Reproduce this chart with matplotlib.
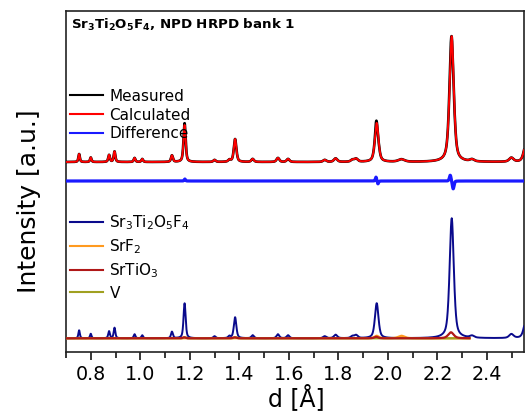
import numpy as np
import matplotlib
matplotlib.use("Agg")
import matplotlib.pyplot as plt

plt.rcParams['font.family'] = ['DejaVu Sans']
plt.rcParams['mathtext.default'] = 'regular'

# ---------------- data ----------------
x_min, x_max = 0.70, 2.55
phase_end = 2.33            # minor phase curves stop here

# main phase Sr3Ti2O5F4 : peak positions (d, Å), heights (a.u.), FWHM (Å)
main_pos = [0.753, 0.800, 0.874, 0.896, 0.977, 1.008, 1.128, 1.179, 1.300, 1.360,
            1.383, 1.454, 1.556, 1.597, 1.745, 1.789, 1.857, 1.872, 1.955, 2.258,
            2.340, 2.499, 2.558]
main_hts = [8, 4.5, 7, 10.5, 4, 3, 6.5, 35, 2, 2,
            21, 3, 4, 3, 2, 3.5, 2, 3, 35, 120,
            2, 4, 18]
main_fwhm = [0.007, 0.007, 0.008, 0.008, 0.008, 0.008, 0.009, 0.010, 0.011, 0.011,
             0.012, 0.012, 0.013, 0.013, 0.015, 0.016, 0.016, 0.016, 0.017, 0.020,
             0.020, 0.021, 0.021]

srf2_pos = [1.955, 2.055]
srf2_hts = [2.5, 2.5]
srf2_fwhm = [0.020, 0.030]

srtio3_pos = [1.177, 1.381, 1.953, 2.255]
srtio3_hts = [1.0, 1.0, 1.5, 6.0]
srtio3_fwhm = [0.012, 0.014, 0.018, 0.026]

v_pos = [1.180, 1.385]
v_hts = [1.0, 1.0]
v_fwhm = [0.012, 0.014]

# misfit features (measured - calculated)
res_pos = [1.180, 1.952, 1.960, 2.252, 2.264]
res_amp = [2.0, 4.0, -3.0, 6.0, -8.0]
res_fwhm = [0.006, 0.006, 0.006, 0.008, 0.008]

upper_base = 190.0
diff_base = 171.0
lower_base = 13.7

labels_top = ['Measured', 'Calculated', 'Difference']
labels_phase = [r'Sr$_3$Ti$_2$O$_5$F$_4$', r'SrF$_2$', r'SrTiO$_3$', 'V']
x_ticks = [0.8, 1.0, 1.2, 1.4, 1.6, 1.8, 2.0, 2.2, 2.4]

# ---------------- profile construction ----------------
d = np.linspace(x_min, x_max, 5000)

def profile(pos, hts, fwhm, xs, eta=0.55):
    out = np.zeros_like(xs)
    for p, h, w in zip(pos, hts, fwhm):
        g = np.exp(-4 * np.log(2) * ((xs - p) / w) ** 2)
        l = 1.0 / (1.0 + 4 * ((xs - p) / w) ** 2)
        out += h * (eta * l + (1 - eta) * g)
    return out

main = profile(main_pos, main_hts, main_fwhm, d)
srf2 = profile(srf2_pos, srf2_hts, srf2_fwhm, d)
srtio3 = profile(srtio3_pos, srtio3_hts, srtio3_fwhm, d)
vv = profile(v_pos, v_hts, v_fwhm, d)
resid = profile(res_pos, res_amp, res_fwhm, d, eta=0.3)

calc = upper_base + main + srf2 + srtio3 + vv
meas = calc + resid
diff = diff_base + (meas - calc)

mask = d <= phase_end

# ---------------- figure ----------------
fig = plt.figure(figsize=(5.29, 4.15), dpi=100)
ax = fig.add_axes([66 / 529, 1 - 352 / 415, (524 - 66) / 529, (352 - 11) / 415])

l_meas, = ax.plot(d, meas, color='black', lw=1.9, zorder=3)
l_calc, = ax.plot(d, calc, color='#ff0000', lw=1.4, zorder=4)
l_diff, = ax.plot(d, diff, color='#1a1aff', lw=2.3, zorder=3)

l_main, = ax.plot(d, lower_base + main, color='#0a0a8c', lw=1.4, zorder=3)
l_srf2, = ax.plot(d[mask], lower_base + srf2[mask], color='#ff9a1f', lw=1.6, zorder=4)
l_v, = ax.plot(d[mask], lower_base + vv[mask], color='#a0a020', lw=1.6, zorder=5)
l_sto, = ax.plot(d[mask], lower_base + srtio3[mask], color='#b01818', lw=1.6, zorder=6)

ax.set_xlim(x_min, x_max)
ax.set_ylim(0, 341)
ax.set_yticks([])
ax.set_xticks(x_ticks)
ax.set_xticklabels([f'{t:.1f}' for t in x_ticks])
ax.set_xticks(np.arange(0.7, 2.551, 0.1), minor=True)
ax.tick_params(axis='x', which='major', direction='out', length=6, width=1.1,
               labelsize=13.8, pad=3.5)
ax.tick_params(axis='x', which='minor', direction='out', length=4, width=1.1)
for s in ax.spines.values():
    s.set_linewidth(1.2)
    s.set_color('#222222')

ax.text(0.011, 0.982, r'$\mathbf{Sr_3Ti_2O_5F_4}$, NPD HRPD bank 1',
        transform=ax.transAxes, ha='left', va='top', fontsize=9.6,
        fontweight='bold')

leg1 = ax.legend([l_meas, l_calc, l_diff], labels_top, loc='upper left',
                 bbox_to_anchor=(0.008, 0.772), frameon=False, fontsize=11,
                 handlelength=2.15, handletextpad=0.45, labelspacing=0.25,
                 borderpad=0, borderaxespad=0)
for h in leg1.get_lines():
    h.set_linewidth(1.5)
ax.add_artist(leg1)
leg2 = ax.legend([l_main, l_srf2, l_sto, l_v], labels_phase, loc='upper left',
                 bbox_to_anchor=(0.008, 0.407), frameon=False, fontsize=11,
                 handlelength=2.15, handletextpad=0.45, labelspacing=0.36,
                 borderpad=0, borderaxespad=0)
for h in leg2.get_lines():
    h.set_linewidth(1.5)

fig.text(29 / 529, 1 - 201 / 415, 'Intensity [a.u.]', rotation=90,
         ha='center', va='center', fontsize=18)
fig.text(296 / 529, 1 - 398 / 415, 'd [Å]', ha='center', va='center',
         fontsize=17)

fig.savefig('out.png', dpi=100)
